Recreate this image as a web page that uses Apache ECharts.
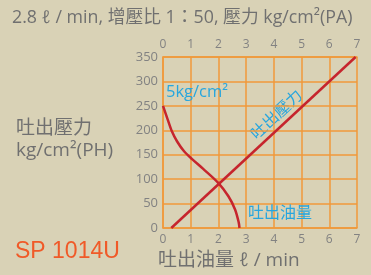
<!DOCTYPE html>
<html lang="zh-Hant">
<head>
  <meta charset="UTF-8">
  <title>SP 1014U</title>
  <script src="https://cdn.jsdelivr.net/npm/echarts@6/dist/echarts.min.js"></script>
  <style>
    body { margin: 0; padding: 0; background-color: #d9d2b6; }
  </style>
</head>
<body>
  <div id="chart" style="width: 371px; height: 275px;"></div>
  <script>
    // 刻度
    var xTicks = [0, 1, 2, 3, 4, 5, 6, 7];
    var yTicks = [0, 50, 100, 150, 200, 250, 300, 350];
    // 吐出油量 曲線 [ℓ/min, kg/cm²]
    var flowCurve = [[0, 250], [0.17, 222], [0.32, 198], [0.51, 177], [0.76, 157], [1.05, 141],
      [1.45, 121], [2.0, 92], [2.36, 65], [2.6, 38], [2.73, 12], [2.76, 0]];
    // 吐出壓力 直線
    var pressureLine = [[0.3, 0], [6.95, 350]];

    var font = '"Open Sans", "Noto Sans CJK TC", sans-serif';
    var gray = '#707070';
    var orange = '#f0993a';
    var red = '#c6252d';
    var blue = '#27a6de';

    var chart = echarts.init(document.getElementById('chart'));
    var axisCommon = {
      type: 'value',
      min: xTicks[0],
      max: xTicks[xTicks.length - 1],
      interval: 1,
      axisLine: { show: true, lineStyle: { color: orange, width: 1.5 } },
      axisTick: { show: false },
      splitLine: { show: true, lineStyle: { color: orange, width: 1.5 } },
      axisLabel: { color: '#828282', fontSize: 12, fontFamily: font, margin: 6 }
    };
    function label(text, left, top, size, color, extra) {
      return {
        text: text, left: left, top: top, padding: 0,
        textStyle: Object.assign({ color: color, fontSize: size, fontWeight: 'normal', fontFamily: font }, extra || {})
      };
    }
    var option = {
      backgroundColor: '#d9d2b6',
      animation: false,
      grid: { left: 163, right: 14, top: 57, bottom: 47 },
      title: [
        label('2.8 ℓ / min, 增壓比 1：50, 壓力 kg/cm²(PA)', 12, 9, 17.8, gray),
        label('吐出壓力\nkg/cm²(PH)', 16, 118, 19, gray, { lineHeight: 22 }),
        label('SP 1014U', 15, 240, 23, '#f05a28', { fontFamily: 'Liberation Sans, Arial, sans-serif' }),
        label('吐出油量 ℓ / min', 158, 251, 19, gray),
        label('5kg/cm²', 166, 84, 16.5, blue),
        label('吐出油量', 248, 205, 16, blue)
      ],
      graphic: [
        { type: 'text', x: 276, y: 114, rotation: 43 * Math.PI / 180,
          style: { text: '吐出壓力', fill: blue, font: '16px "Noto Sans CJK TC", sans-serif',
            textAlign: 'center', textVerticalAlign: 'middle' } }
      ],
      xAxis: [
        Object.assign({}, axisCommon, { position: 'bottom' }),
        Object.assign({}, axisCommon, { position: 'top', splitLine: { show: false } })
      ],
      yAxis: {
        type: 'value',
        min: yTicks[0],
        max: yTicks[yTicks.length - 1],
        interval: 50,
        axisLine: { show: true, lineStyle: { color: orange, width: 1.5 } },
        axisTick: { show: false },
        splitLine: { show: true, lineStyle: { color: orange, width: 1.5 } },
        axisLabel: { color: '#828282', fontSize: 13, fontFamily: font, margin: 5 }
      },
      series: [
        {
          type: 'line', smooth: 0.3, symbol: 'none', data: flowCurve,
          lineStyle: { color: red, width: 2.5 }
        },
        {
          type: 'line', symbol: 'none', data: pressureLine,
          lineStyle: { color: red, width: 2.5 }
        }
      ]
    };
    chart.setOption(option);
  </script>
</body>
</html>
